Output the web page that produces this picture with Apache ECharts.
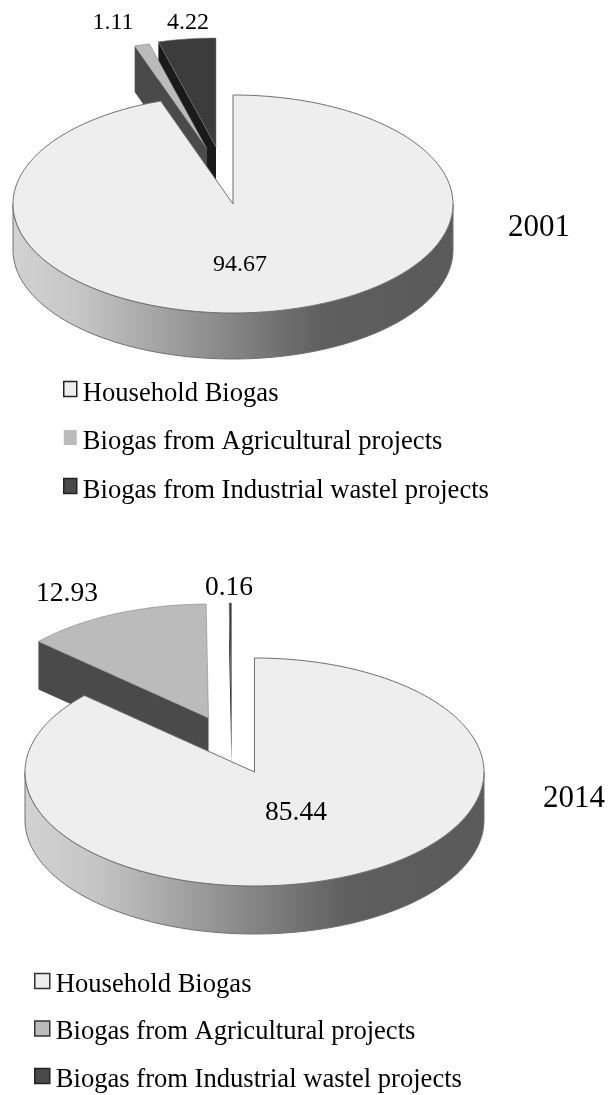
<!DOCTYPE html>
<html>
<head>
<meta charset="utf-8">
<style>html,body{margin:0;padding:0;background:#fff}#main{width:611px;height:1095px}</style>
<script src="https://cdn.jsdelivr.net/npm/echarts@6/dist/echarts.min.js"></script>
</head>
<body>
<div id="main"></div>
<script>
var categories = ['Household Biogas', 'Biogas from Agricultural projects', 'Biogas from Industrial wastel projects'];
var years = ['2001', '2014'];
var values2001 = [94.67, 1.11, 4.22];
var values2014 = [85.44, 12.93, 0.16];

var FONT = '"Liberation Serif", "Times New Roman", serif';
var topColors = ['#eeeeee', '#bbbbbb', '#3c3c3c'];
var wallColors = [null, '#4a4a4a', '#1a1a1a'];
var edgeColor = '#707070';

// where each pie sits on the page
var pies = [{
  values: values2001, cx: 233, cy: 204, rx: 220, ry: 109, depth: 46,
  offsets: [[0, 0], [-26, -55], [-17, -57]],
  labels: [[240, 265], [113, 23], [188, 23]], labelSize: 24
}, {
  values: values2014, cx: 254.5, cy: 772, rx: 229.5, ry: 114, depth: 48,
  offsets: [[0, 0], [-46, -54], [-23, -55]],
  labels: [[296, 813], [67, 594], [229, 588]], labelSize: 27.5
}];

function pt(p, ox, oy, deg, dy) {
  var a = deg * Math.PI / 180;
  return [p.cx + ox + p.rx * Math.sin(a), p.cy + oy - p.ry * Math.cos(a) + (dy || 0)];
}

function arc(p, ox, oy, from, to, dy) {
  var pts = [];
  var n = Math.max(2, Math.ceil((to - from) / 1.5));
  for (var i = 0; i <= n; i++) {
    pts.push(pt(p, ox, oy, from + (to - from) * i / n, dy));
  }
  return pts;
}

function renderSlice(p, idx) {
  var total = p.values.reduce(function (a, b) { return a + b; }, 0);
  var start = 0;
  for (var i = 0; i < idx; i++) start += p.values[i] / total * 360;
  var end = start + p.values[idx] / total * 360;
  var ox = p.offsets[idx][0], oy = p.offsets[idx][1];
  var apex = [p.cx + ox, p.cy + oy];
  var children = [];

  if (idx === 0) {
    // front rim of the big slice
    var rim = arc(p, ox, oy, 90, 270, 0);
    var low = arc(p, ox, oy, 90, 270, p.depth).reverse();
    children.push({
      type: 'polygon',
      shape: { points: rim.concat(low) },
      style: {
        fill: new echarts.graphic.LinearGradient(0, 0, 1, 0, [
          { offset: 0, color: '#d2d2d2' },
          { offset: 0.15, color: '#c6c6c6' },
          { offset: 0.7, color: '#5f5f5f' },
          { offset: 1, color: '#5a5a5a' }
        ]),
        stroke: edgeColor, lineWidth: 1
      }
    });
  } else {
    var outer = pt(p, ox, oy, start);
    children.push({
      type: 'polygon',
      shape: { points: [apex, outer, [outer[0], outer[1] + p.depth], [apex[0], apex[1] + p.depth]] },
      style: { fill: wallColors[idx] }
    });
  }
  children.push({
    type: 'polygon',
    shape: { points: [apex].concat(arc(p, ox, oy, start, end, 0)) },
    style: { fill: topColors[idx], stroke: idx === 0 ? edgeColor : '#777', lineWidth: idx === 0 ? 1 : 0.5 }
  });
  children.push({
    type: 'text',
    z2: 10,
    style: {
      text: p.values[idx].toFixed(2),
      x: p.labels[idx][0], y: p.labels[idx][1],
      align: 'center', verticalAlign: 'middle',
      fill: '#000', font: p.labelSize + 'px ' + FONT
    }
  });
  return { type: 'group', children: children };
}

var series = [];
pies.forEach(function (p, k) {
  // back slices first, the big one goes over them
  [2, 1, 0].forEach(function (idx) {
    series.push({
      type: 'custom',
      name: categories[idx],
      coordinateSystem: 'none',
      animation: false,
      silent: true,
      itemStyle: { color: topColors[idx] },
      data: [[p.values[idx]]],
      renderItem: function () { return renderSlice(p, idx); }
    });
  });
});

// the swatch sits above the text line, so the icon path is taller than the square
function legendItems(borders, w, h) {
  return categories.map(function (name, i) {
    return {
      name: name,
      icon: 'path://M0 0L' + w + ' 0L' + w + ' 15L0 15ZM0 ' + h + 'L0 ' + h,
      itemStyle: { color: i === 2 ? '#4a4a4a' : topColors[i], borderColor: borders[i], borderWidth: borders[i] === 'none' ? 0 : 1.5 }
    };
  });
}

var legendBase = {
  orient: 'vertical',
  selectedMode: false,
  padding: 0,
  height: 200,
  textStyle: { fontFamily: FONT, fontSize: 26.6, color: '#000', lineHeight: 26, padding: [0, 0, 0, 1] }
};

var chart = echarts.init(document.getElementById('main'), null, { width: 611, height: 1095 });
chart.setOption({
  backgroundColor: '#fff',
  animation: false,
  title: [
    { text: years[0], left: 508, top: 212, padding: 0, textStyle: { fontFamily: FONT, fontSize: 31, fontWeight: 'normal', color: '#000' } },
    { text: years[1], left: 543, top: 783, padding: 0, textStyle: { fontFamily: FONT, fontSize: 31, fontWeight: 'normal', color: '#000' } }
  ],
  legend: [
    Object.assign({}, legendBase, { left: 63, top: 380.5, itemGap: 21.5, itemWidth: 13, itemHeight: 25, data: legendItems(['#222', 'none', '#222'], 13, 25) }),
    Object.assign({}, legendBase, { left: 34, top: 971.5, itemGap: 20.5, itemWidth: 15, itemHeight: 23, data: legendItems(['#333', '#333', '#222'], 15, 23) })
  ],
  series: series
});
</script>
</body>
</html>
